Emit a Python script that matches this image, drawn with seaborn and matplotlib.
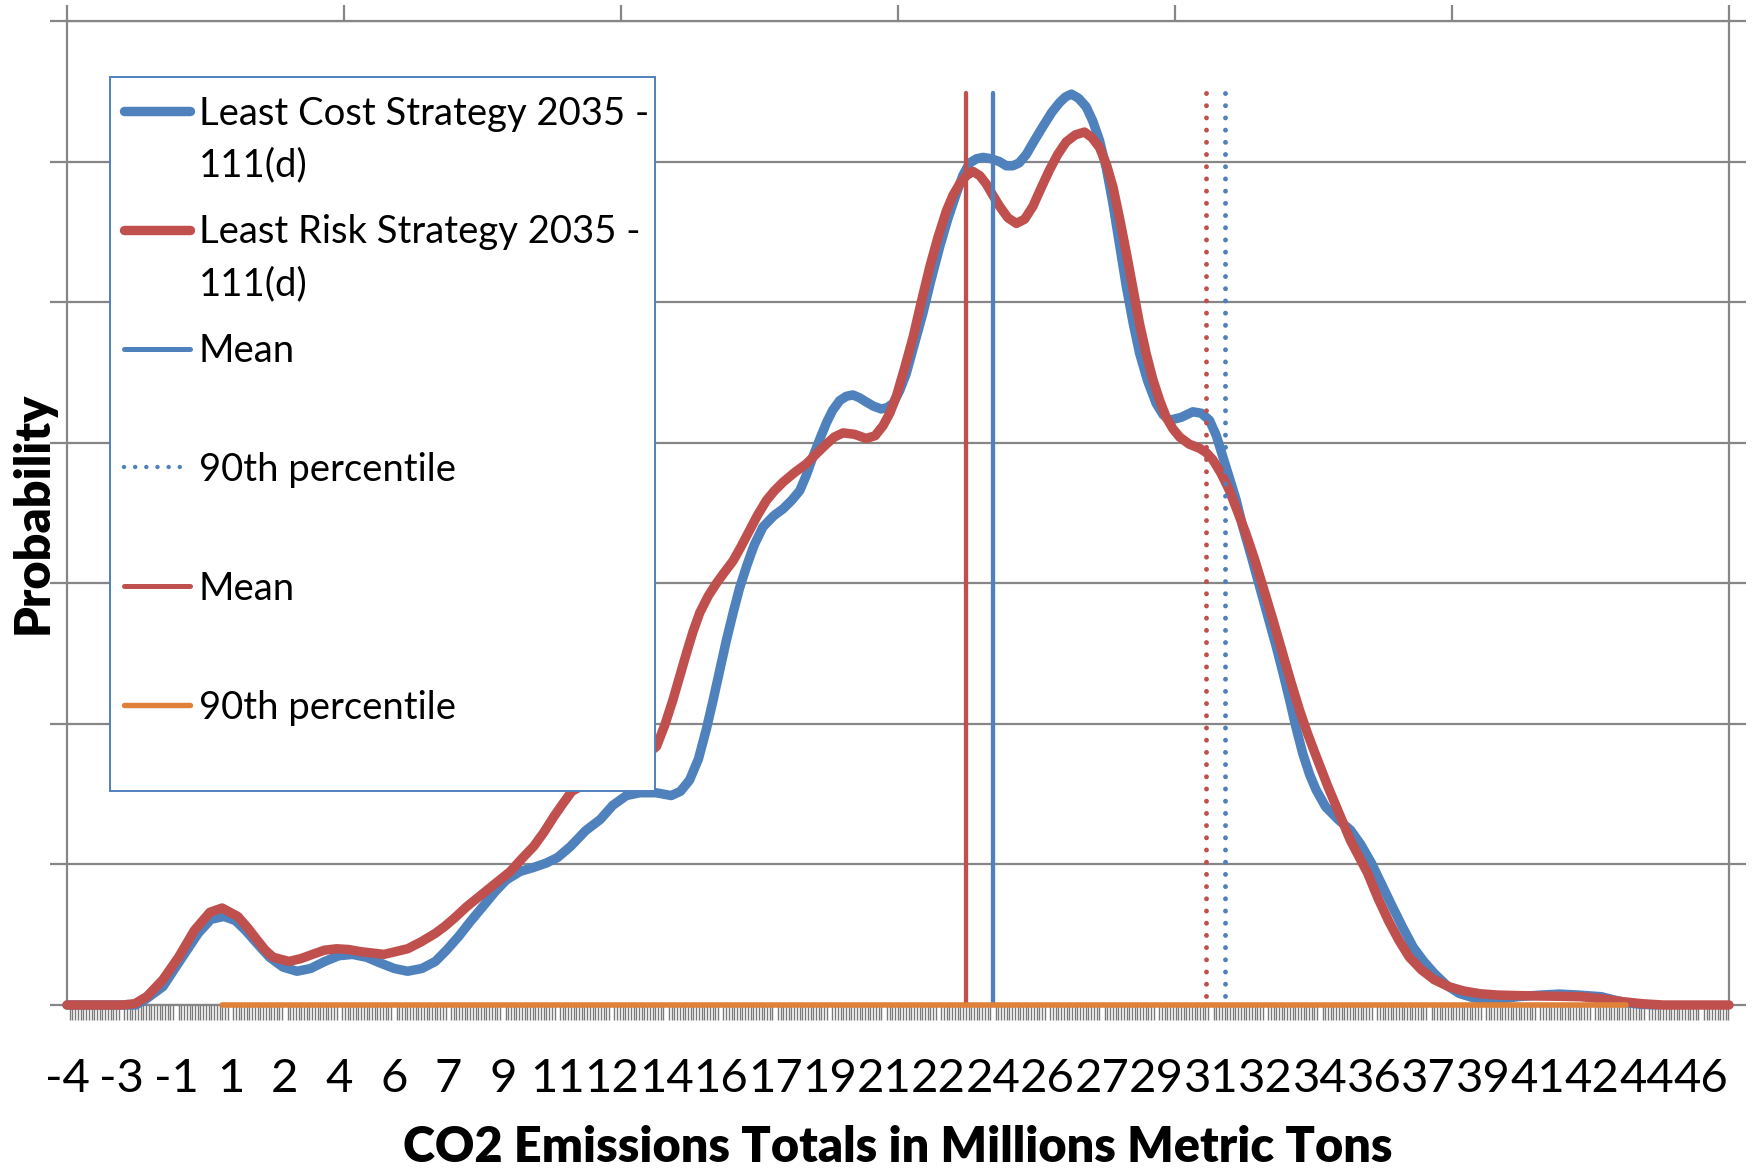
import numpy as np
import pandas as pd
import matplotlib
matplotlib.use("Agg")
import matplotlib.pyplot as plt
import seaborn as sns
from matplotlib.lines import Line2D
from matplotlib.patches import Rectangle

# ---------------------------------------------------------------------------
# Probability curves of CO2 emission totals (million metric tons), 2035 - 111(d)
# ---------------------------------------------------------------------------
cost_x = [-4.3, -2.2, -1.9, -1.37, -0.89, -0.29, 0.1, 0.5, 0.85, 1.16, 1.5, 1.89,
          2.3, 2.73, 3.15, 3.58, 4.0, 4.42, 4.85, 5.26, 5.7, 6.11, 6.55, 6.96,
          7.3, 7.68, 8.05, 8.41, 8.8, 9.13, 9.55, 9.98, 10.35, 10.7, 11.1, 11.55,
          12.0, 12.38, 12.8, 13.21, 13.7, 14.17, 14.45, 14.73, 15.0, 15.24, 15.45,
          15.65, 15.85, 16.06, 16.25, 16.47, 16.7, 16.97, 17.3, 17.59, 17.85, 18.1,
          18.3, 18.5, 18.7, 18.91, 19.1, 19.32, 19.52, 19.72, 19.92, 20.13, 20.35,
          20.59, 20.77, 20.95, 21.15, 21.35, 21.6, 21.86, 22.1, 22.37, 22.62, 22.88,
          23.08, 23.29, 23.5, 23.7, 23.95, 24.2, 24.41, 24.61, 24.8, 25.02, 25.27,
          25.53, 25.8, 26.04, 26.22, 26.4, 26.62, 26.85, 27.05, 27.26, 27.47, 27.67,
          27.87, 28.08, 28.28, 28.48, 28.73, 28.99, 29.2, 29.4, 29.75, 30.11, 30.37,
          30.62, 30.83, 31.03, 31.24, 31.44, 31.64, 31.9, 32.15, 32.4, 32.66, 32.87,
          33.07, 33.27, 33.47, 33.68, 33.88, 34.17, 34.55, 34.93, 35.25, 35.57, 35.9,
          36.21, 36.53, 36.85, 37.17, 37.49, 37.87, 38.25, 38.7, 39.14, 39.6, 40.04,
          40.7, 41.32, 41.95, 42.6, 43.0, 43.36, 43.8, 44.3]
cost_y = [0.0, 0.0, 0.04, 0.13, 0.30, 0.51, 0.61, 0.63, 0.60, 0.53, 0.44, 0.34,
          0.27, 0.24, 0.26, 0.31, 0.35, 0.36, 0.34, 0.30, 0.26, 0.24, 0.26, 0.31,
          0.39, 0.49, 0.60, 0.70, 0.81, 0.89, 0.95, 0.98, 1.01, 1.05, 1.13, 1.24,
          1.32, 1.42, 1.49, 1.51, 1.51, 1.49, 1.52, 1.60, 1.75, 1.96, 2.17,
          2.38, 2.59, 2.79, 2.96, 3.12, 3.27, 3.40, 3.48, 3.53, 3.59, 3.66,
          3.77, 3.90, 4.02, 4.14, 4.23, 4.30, 4.33, 4.34, 4.32, 4.29, 4.26,
          4.24, 4.25, 4.28, 4.37, 4.49, 4.70, 4.92, 5.15, 5.39, 5.59, 5.77,
          5.90, 5.99, 6.02, 6.03, 6.02, 6.00, 5.97, 5.97, 5.99, 6.05, 6.15,
          6.25, 6.35, 6.42, 6.46, 6.48, 6.45, 6.39, 6.29, 6.15, 5.95, 5.70,
          5.41, 5.11, 4.86, 4.64, 4.44, 4.28, 4.20, 4.16, 4.18, 4.22, 4.21,
          4.16, 4.05, 3.90, 3.74, 3.59, 3.40, 3.19, 2.98, 2.77, 2.55, 2.36,
          2.17, 1.97, 1.79, 1.64, 1.53, 1.41, 1.32, 1.245, 1.14, 1.01, 0.85,
          0.70, 0.55, 0.41, 0.31, 0.225, 0.14, 0.083, 0.05, 0.036, 0.045, 0.059,
          0.07, 0.078, 0.07, 0.059, 0.035, 0.016, 0.005, 0.0]

risk_x = [-4.3, -2.6, -2.22, -1.86, -1.37, -0.89, -0.41, 0.07, 0.44, 0.92, 1.22,
          1.52, 1.76, 2.0, 2.48, 2.85, 3.2, 3.57, 3.94, 4.3, 4.66, 5.03, 5.39,
          5.75, 6.11, 6.53, 6.96, 7.25, 7.55, 7.92, 8.29, 8.77, 9.25, 9.6, 9.97,
          10.28, 10.58, 10.85, 11.13, 11.6, 12.0, 12.5, 12.9, 13.3, 13.72, 13.97,
          14.22, 14.42, 14.63, 14.84, 15.04, 15.3, 15.55, 15.8, 16.06, 16.3, 16.57,
          16.82, 17.08, 17.33, 17.59, 17.95, 18.3, 18.6, 18.91, 19.15, 19.42, 19.77,
          20.13, 20.4, 20.64, 20.85, 21.05, 21.3, 21.56, 21.8, 22.07, 22.32, 22.58,
          22.78, 22.98, 23.19, 23.39, 23.6, 23.8, 24.0, 24.21, 24.46, 24.72, 24.97,
          25.22, 25.47, 25.73, 25.98, 26.24, 26.52, 26.8, 27.03, 27.26, 27.47, 27.67,
          27.87, 28.08, 28.28, 28.48, 28.69, 28.89, 29.1, 29.3, 29.5, 29.71, 30.0,
          30.32, 30.52, 30.72, 30.98, 31.23, 31.48, 31.74, 32.0, 32.25, 32.56, 32.86,
          33.12, 33.37, 33.62, 33.88, 34.23, 34.59, 34.93, 35.2, 35.45, 35.77, 36.09,
          36.41, 36.73, 37.1, 37.49, 37.94, 38.39, 38.9, 39.41, 40.05, 40.69, 41.3,
          41.96, 42.6, 43.24, 43.9, 44.5, 46.5]
risk_y = [0.0, 0.0, 0.01, 0.06, 0.18, 0.34, 0.53, 0.66, 0.69, 0.63, 0.55,
          0.46, 0.39, 0.34, 0.31, 0.33, 0.36, 0.39, 0.40, 0.395, 0.38, 0.37, 0.36,
          0.38, 0.40, 0.45, 0.51, 0.56, 0.62, 0.70, 0.77, 0.86, 0.95, 1.04, 1.13,
          1.23, 1.34, 1.43, 1.52, 1.58, 1.62, 1.66, 1.70, 1.76, 1.84, 1.99,
          2.17, 2.33, 2.50, 2.66, 2.79, 2.91, 3.00, 3.08, 3.16, 3.26, 3.38,
          3.49, 3.59, 3.66, 3.72, 3.79, 3.85, 3.92, 3.99, 4.04, 4.07, 4.06,
          4.03, 4.05, 4.12, 4.21, 4.33, 4.53, 4.75, 4.99, 5.25, 5.46, 5.65,
          5.76, 5.84, 5.90, 5.93, 5.90, 5.84, 5.76, 5.68, 5.60, 5.56, 5.59,
          5.68, 5.81, 5.94, 6.05, 6.14, 6.19, 6.21, 6.17, 6.10, 5.98, 5.82,
          5.60, 5.35, 5.10, 4.85, 4.63, 4.45, 4.30, 4.18, 4.10, 4.04, 3.99,
          3.96, 3.93, 3.88, 3.78, 3.66, 3.51, 3.35, 3.17, 2.98, 2.74, 2.50,
          2.29, 2.10, 1.93, 1.77, 1.56, 1.36, 1.17, 1.05, 0.94, 0.76, 0.60,
          0.46, 0.34, 0.25, 0.18, 0.13, 0.10, 0.08, 0.071, 0.067, 0.064, 0.062,
          0.059, 0.045, 0.024, 0.008, 0.0, 0.0]

# summary statistics drawn as vertical markers
cost_mean, cost_p90 = 24.0, 31.08
risk_mean, risk_p90 = 23.19, 30.52
marker_top = 6.49

# the orange "90th percentile" series sits on zero across the categories
orange_from, orange_to = 0.44, 43.36

# category axis
first_category = -4.3
last_category = 46.5
label_step = 1.665
tick_labels = ["-4", "-3", "-1", "1", "2", "4", "6", "7", "9", "11", "12", "14",
               "16", "17", "19", "21", "22", "24", "26", "27", "29", "31", "32",
               "34", "36", "37", "39", "41", "42", "44", "46"]

series_names = ["Least Cost Strategy 2035 - 111(d)", "Least Risk Strategy 2035 - 111(d)"]

# ---------------------------------------------------------------------------
BLUE = "#4F81BD"
RED = "#C0504D"
ORANGE = "#E0813A"
GRID = "#868686"

sns.set_theme(style="white")
plt.rcParams["font.family"] = ["Lato", "DejaVu Sans"]
plt.rcParams["text.color"] = "black"
plt.rcParams["axes.labelcolor"] = "black"
plt.rcParams["xtick.color"] = "black"
plt.rcParams["ytick.color"] = "black"

W, H = 1756, 1172
fig = plt.figure(figsize=(W / 100, H / 100), dpi=100)
fig.patch.set_facecolor("white")

# plot area in pixels: left 67, right 1729, top 21, bottom 1005
ax = fig.add_axes([67 / W, 1 - 1005 / H, (1729 - 67) / W, (1005 - 21) / H])

df = pd.concat([
    pd.DataFrame({"x": cost_x, "y": cost_y, "series": series_names[0]}),
    pd.DataFrame({"x": risk_x, "y": risk_y, "series": series_names[1]}),
], ignore_index=True)

sns.lineplot(data=df, x="x", y="y", hue="series", hue_order=series_names,
             palette=[BLUE, RED], linewidth=6.8, sort=False, estimator=None,
             legend=False, ax=ax)
for ln in ax.lines:
    ln.set_solid_capstyle("round")
    ln.set_solid_joinstyle("round")
    ln.set_clip_on(False)
    ln.set_zorder(3)

# mean markers
ax.plot([risk_mean, risk_mean], [0, marker_top], color=RED, lw=3.1, zorder=4,
        solid_capstyle="round")
ax.plot([cost_mean, cost_mean], [0, marker_top], color=BLUE, lw=3.1, zorder=4,
        solid_capstyle="round")
# 90th percentile markers (dotted)
dots = (0, (0.01, 2.5))
ax.plot([risk_p90, risk_p90], [marker_top, 0], color=RED, lw=3.5, ls=dots,
        dash_capstyle="round", zorder=4)
ax.plot([cost_p90, cost_p90], [marker_top, 0], color=BLUE, lw=3.5, ls=dots,
        dash_capstyle="round", zorder=4)
# orange series on the baseline
ax.plot([orange_from, orange_to], [0, 0], color=ORANGE, lw=4.0,
        solid_capstyle="round", zorder=5, clip_on=False)

# axes, grid and ticks
ax.set_xlim(first_category, last_category)
ax.set_ylim(0, 7)
ax.set_yticks(range(8))
ax.grid(axis="y", color=GRID, lw=1.6)
ax.grid(axis="x", visible=False)
ax.tick_params(axis="y", left=True, right=True, direction="out", length=12.5,
               width=1.6, color=GRID, labelleft=False, labelright=False)

label_pos = [first_category + i * label_step for i in range(len(tick_labels))]
ax.set_xticks(label_pos)
ax.set_xticklabels(tick_labels, fontsize=34)
ax.set_xticks(np.arange(first_category, last_category + 1e-6, label_step / 20), minor=True)
ax.tick_params(axis="x", which="major", length=0, pad=38)
ax.tick_params(axis="x", which="minor", bottom=True, direction="out", length=10.5,
               width=1.0, color="#7a7a7a")
for sp in ax.spines.values():
    sp.set_color(GRID)
    sp.set_linewidth(1.6)
    sp.set_visible(True)

ax.set_xlabel("CO2 Emissions Totals in Millions Metric Tons", fontsize=35,
              fontweight="heavy")
ax.set_ylabel("Probability", fontsize=35, fontweight="heavy")
ax.xaxis.label.set_va("center")
ax.xaxis.set_label_coords(0.5, (1005 - 1148) / (1005 - 21))
ax.yaxis.label.set_va("center")
ax.yaxis.set_label_coords((33 - 67) / (1729 - 67), 0.5)

# secondary category axis on top (six divisions)
ax_top = ax.twiny()
ax_top.set_xlim(0, 6)
ax_top.set_xticks(range(7))
ax_top.tick_params(axis="x", top=True, bottom=False, labeltop=False,
                   labelbottom=False, direction="out", length=11.5, width=1.6,
                   color=GRID)
for sp in ax_top.spines.values():
    sp.set_visible(False)

# legend box
def fx(x):
    return x / W


def fy(y):
    return 1 - y / H


fig.add_artist(Rectangle((fx(110), fy(791)), (655 - 110) / W, (791 - 77) / H,
                         transform=fig.transFigure, facecolor="white",
                         edgecolor=BLUE, lw=1.4, zorder=5))

legend_entries = [
    (["Least Cost Strategy 2035 -", "111(d)"], BLUE, 6.8, "-"),
    (["Least Risk Strategy 2035 -", "111(d)"], RED, 6.8, "-"),
    (["Mean"], BLUE, 3.6, "-"),
    (["90th percentile"], BLUE, 3.2, dots),
    (["Mean"], RED, 3.6, "-"),
    (["90th percentile"], ORANGE, 3.9, "-"),
]
for i, (lines, color, lw, ls) in enumerate(legend_entries):
    yc = 111 + i * 118.8
    fig.add_artist(Line2D([fx(124), fx(190)], [fy(yc), fy(yc)],
                          transform=fig.transFigure, color=color, lw=lw, ls=ls,
                          solid_capstyle="round", dash_capstyle="round", zorder=6))
    for j, txt in enumerate(lines):
        fig.text(fx(199), fy(yc + j * 51.5 + 13.5), txt, fontsize=27.5,
                 ha="left", va="baseline", color="black", zorder=7)

fig.savefig("out.png", dpi=100, facecolor="white")
